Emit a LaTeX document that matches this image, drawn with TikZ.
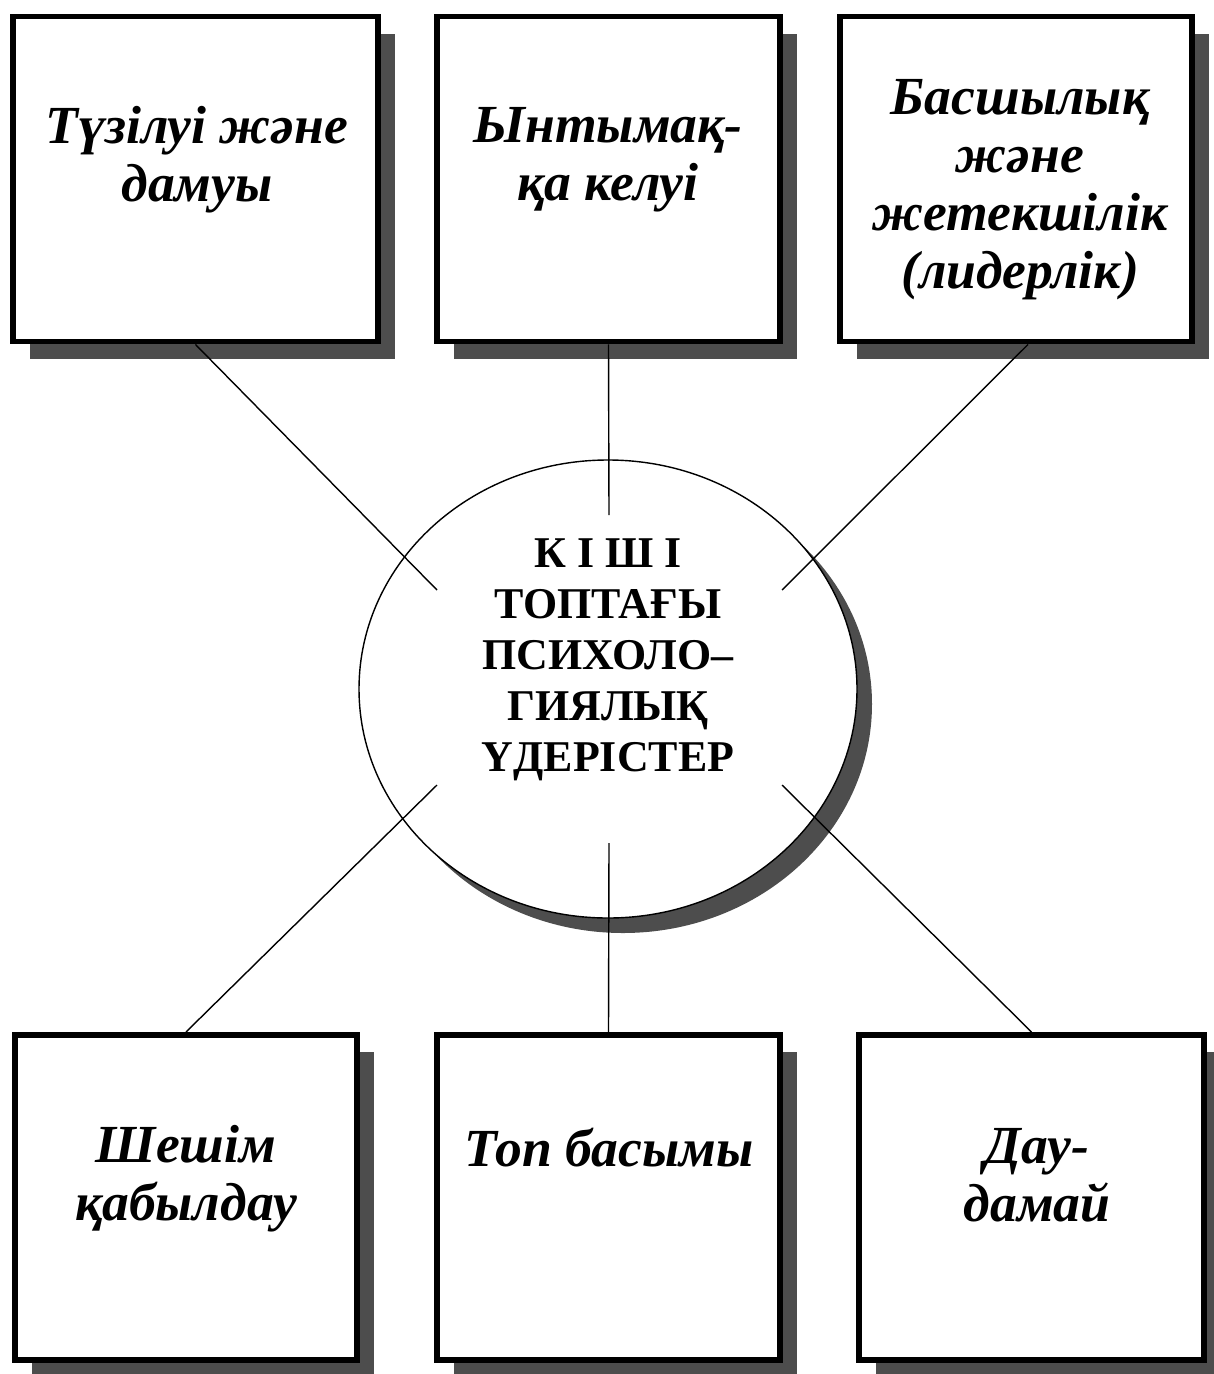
\documentclass[tikz,border=0pt]{standalone}
\usepackage{fontspec}
\setmainfont{Liberation Serif}
\usetikzlibrary{shadows,shapes.geometric}
\definecolor{shadowgray}{HTML}{4D4D4D}

\begin{document}
\begin{tikzpicture}[
    box/.style={draw, line width=3.4pt, fill=white, minimum width=#1, minimum height=6.5cm, inner sep=0pt,
        drop shadow={shadow xshift=0.34cm, shadow yshift=-0.34cm, fill=shadowgray, opacity=1}},
    box/.default=6.86cm,
    hub/.style={draw, ellipse, line width=0.8pt, fill=white, minimum width=9.96cm, minimum height=9.16cm,
        drop shadow={shadow xshift=0.3cm, shadow yshift=-0.3cm, fill=shadowgray, opacity=1}},
    lbl/.style={align=center, font=\bfseries\itshape\fontsize{30.5}{33}\selectfont},
    hubtext/.style={align=center, font=\bfseries\fontsize{25}{29}\selectfont},
    link/.style={line width=0.8pt},
]
\useasboundingbox (0,0) rectangle (24.28,-27.48);

\node[hub] (hub) at (12.16, -13.78) {};
\node[hubtext] (title) at (12.16, -13.20) {К І Ш І\\ТОПТАҒЫ\\ПСИХОЛО–\\ГИЯЛЫҚ\\ҮДЕРІСТЕР};

\node[box=7.30cm] (tl) at (3.91, -3.58) {};
\node[box=6.86cm] (tm) at (12.17, -3.58) {};
\node[box=7.04cm] (tr) at (20.32, -3.58) {};
\node[box=6.84cm] (bl) at (3.72, -23.95) {};
\node[box=6.86cm] (bm) at (12.17, -23.95) {};
\node[box=6.90cm] (br) at (20.63, -23.95) {};

\node[lbl] (tltext) at (3.94, -3.20) {Түзілуі және\\дамуы};
\node[lbl] (tmtext) at (12.16, -3.20) {Ынтымақ-\\қа келуі};
\node[lbl] (trtext) at (20.40, -3.80) {Басшылық\\және\\жетекшілік\\(лидерлік)};
\node[lbl] (bltext) at (3.72, -23.58) {Шешім\\қабылдау};
\node[lbl] (bmtext) at (12.18, -22.96) {Топ басымы};
\node[lbl] (brtext) at (20.74, -23.50) {Дау-\\дамай};

\coordinate (ctl) at (8.74, -11.80);
\coordinate (ctm) at (12.18, -10.30);
\coordinate (ctr) at (15.64, -11.80);
\coordinate (cbl) at (8.74, -15.70);
\coordinate (cbm) at (12.18, -16.86);
\coordinate (cbr) at (15.64, -15.70);

\draw[link] (tl.south) -- (ctl);
\draw[link] (tm.south) -- (ctm);
\draw[link] ([xshift=0.24cm]tr.south) -- (ctr);
\draw[link] (bl.north) -- (cbl);
\draw[link] (bm.north) -- (cbm);
\draw[link] (br.north) -- (cbr);
\end{tikzpicture}
\end{document}
